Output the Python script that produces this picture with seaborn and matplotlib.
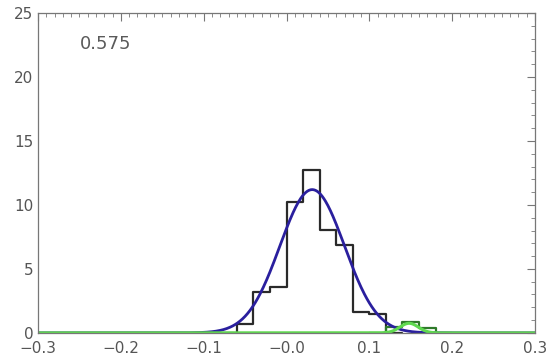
import numpy as np
import pandas as pd
import matplotlib
matplotlib.use("Agg")
import matplotlib.pyplot as plt
from matplotlib.ticker import MultipleLocator, FixedLocator, FixedFormatter
import seaborn as sns

# main histogram (bin width 0.02), empty bins at both ends
bin_edges = [-0.08, -0.06, -0.04, -0.02, 0.00, 0.02, 0.04, 0.06, 0.08, 0.10, 0.12, 0.14]
counts = [0.0, 0.7, 3.2, 3.6, 10.2, 12.7, 8.05, 6.9, 1.66, 1.46, 0.0]

# small second histogram
bin_edges2 = [0.10, 0.12, 0.14, 0.16, 0.18, 0.20]
counts2 = [0.0, 0.45, 0.85, 0.35, 0.0]

# gaussian fits: amplitude, centre, sigma
fit_main = (11.2, 0.031, 0.039)
fit_small = (0.75, 0.148, 0.011)

label_text = "0.575"
xticks = [-0.3, -0.2, -0.1, 0.0, 0.1, 0.2, 0.3]
xticklabels = ["\u22120.3", "\u22120.2", "\u22120.1", "\u22120.0", "0.1", "0.2", "0.3"]
yticks = [0, 5, 10, 15, 20, 25]

sns.set_style("white")
plt.rcParams["font.family"] = ["DejaVu Sans"]

fig = plt.figure(figsize=(5.51, 3.63), dpi=100)
ax = fig.add_axes([0.069, 0.083, 0.902, 0.881])

xs = np.linspace(-0.3, 0.3, 601)
def gauss(p):
    a, m, s = p
    return a * np.exp(-0.5 * ((xs - m) / s) ** 2)

curves = pd.DataFrame({"x": xs, "main": gauss(fit_main), "small": gauss(fit_small)})

mids = [(a + b) / 2 for a, b in zip(bin_edges[:-1], bin_edges[1:])]
sns.histplot(x=mids, weights=counts, bins=bin_edges, element="step", fill=False,
             color="#2a2a2a", lw=1.6, ax=ax)
mids2 = [(a + b) / 2 for a, b in zip(bin_edges2[:-1], bin_edges2[1:])]
sns.histplot(x=mids2, weights=counts2, bins=bin_edges2, element="step", fill=False,
             color="#2f7a2a", lw=1.6, ax=ax)

sns.lineplot(data=curves, x="x", y="main", ax=ax, color="#2a1f9e", lw=2.0)
sns.lineplot(data=curves, x="x", y="small", ax=ax, color="#5fd94f", lw=2.2)

ax.text(-0.25, 22.6, label_text, fontsize=13, color="#5a5a5a", ha="left", va="center")

ax.set_xlim(-0.3, 0.3)
ax.set_ylim(0, 25)
ax.xaxis.set_major_locator(FixedLocator(xticks))
ax.xaxis.set_major_formatter(FixedFormatter(xticklabels))
ax.xaxis.set_minor_locator(MultipleLocator(0.01))
ax.yaxis.set_major_locator(FixedLocator(yticks))
ax.yaxis.set_minor_locator(MultipleLocator(1))
ax.tick_params(which="both", direction="in", top=True, right=True,
               colors="#777777", labelcolor="#555555", labelsize=11)
ax.tick_params(which="major", length=6, width=0.8)
ax.tick_params(which="minor", length=3, width=0.6)
ax.tick_params(axis="x", pad=6)
for sp in ax.spines.values():
    sp.set_color("#777777")
    sp.set_linewidth(0.9)
ax.set_xlabel("")
ax.set_ylabel("")

fig.savefig("out.png", dpi=100)
